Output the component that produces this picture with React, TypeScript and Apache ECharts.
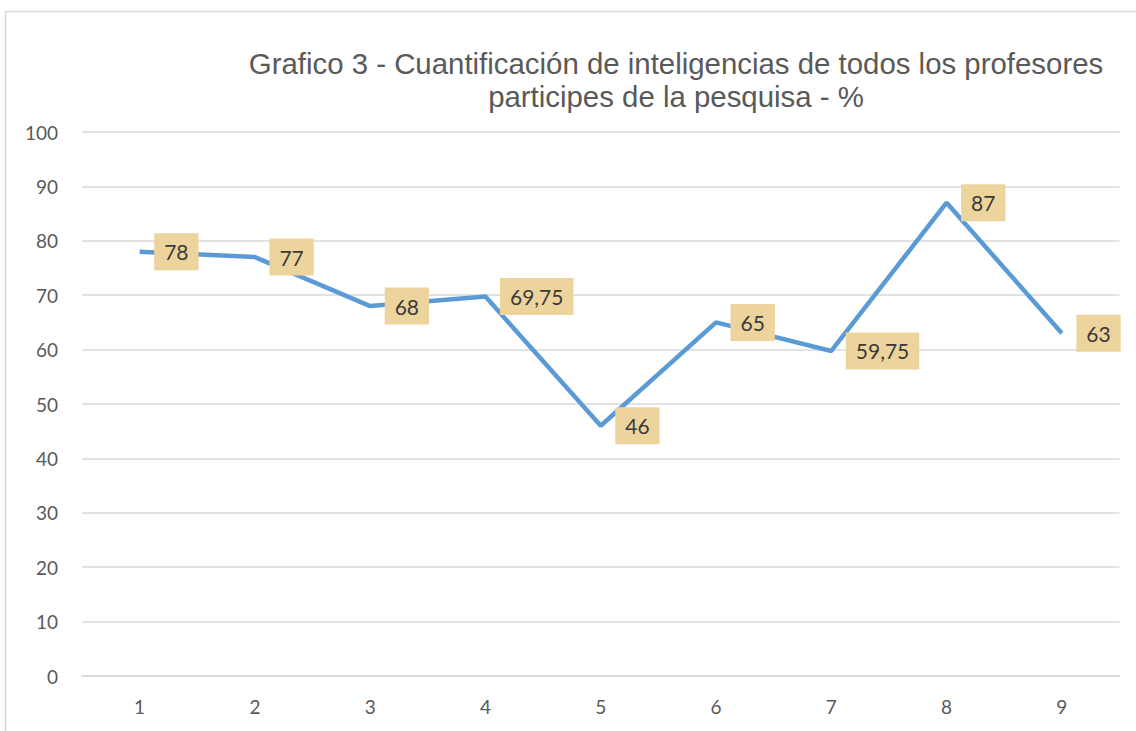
import React, { useEffect, useRef } from "react";
import * as echarts from "echarts";

const categories = ["1", "2", "3", "4", "5", "6", "7", "8", "9"];
const values = [78, 77, 68, 69.75, 46, 65, 59.75, 87, 63];
const titleLines = [
  "Grafico 3 - Cuantificación de inteligencias de todos los profesores",
  "participes de la pesquisa - %",
];

export default function App() {
  const ref = useRef<HTMLDivElement>(null);
  useEffect(() => {
    document.body.style.margin = "0";
    const chart = echarts.init(ref.current!, null, { renderer: "svg" });
    chart.setOption({
      animation: false,
      backgroundColor: "#ffffff",
      title: {
        text: titleLines.join("\n"),
        left: 671,
        textAlign: "center",
        top: 42,
        textStyle: {
          fontFamily: "Liberation Sans, Arial, sans-serif",
          fontSize: 29.4,
          fontWeight: "normal",
          color: "#595959",
          lineHeight: 33,
        },
      },
      graphic: [
        {
          type: "rect",
          shape: { x: 5.5, y: 11.5, width: 1200, height: 800 },
          style: { fill: "none", stroke: "#D9D9D9", lineWidth: 1.5 },
          z: 0,
        },
      ],
      grid: { left: 82, right: 16.5, top: 132, bottom: 55 },
      xAxis: {
        type: "category",
        data: categories,
        boundaryGap: true,
        axisLine: { lineStyle: { color: "#D9D9D9", width: 1.5 } },
        axisTick: { show: false },
        axisLabel: {
          color: "#595959",
          fontSize: 19,
          fontFamily: "Lato, Open Sans, sans-serif",
          margin: 21,
        },
      },
      yAxis: {
        type: "value",
        min: 0,
        max: 100,
        interval: 10,
        axisLine: { show: false },
        axisTick: { show: false },
        splitLine: { lineStyle: { color: "#D9D9D9", width: 1.5 } },
        axisLabel: {
          color: "#595959",
          fontSize: 19,
          fontFamily: "Lato, Open Sans, sans-serif",
          margin: 24,
        },
      },
      series: [
        {
          type: "line",
          data: values,
          showSymbol: true,
          symbol: "circle",
          symbolSize: 1,
          itemStyle: { color: "rgba(91,155,213,0)" },
          lineStyle: { color: "#5B9BD5", width: 4.5 },
          label: {
            show: true,
            position: "right",
            distance: 14,
            formatter: (p: any) => String(p.value).replace(".", ","),
            color: "#3A3A3A",
            fontSize: 21,
            fontFamily: "Lato, Open Sans, sans-serif",
            backgroundColor: "#EDD49C",
            padding: [8, 10, 8, 10],
          },
        },
      ],
    });
    return () => chart.dispose();
  }, []);
  return (
    <div
      ref={ref}
      style={{ position: "absolute", left: 0, top: 0, width: 1136, height: 731 }}
    />
  );
}
